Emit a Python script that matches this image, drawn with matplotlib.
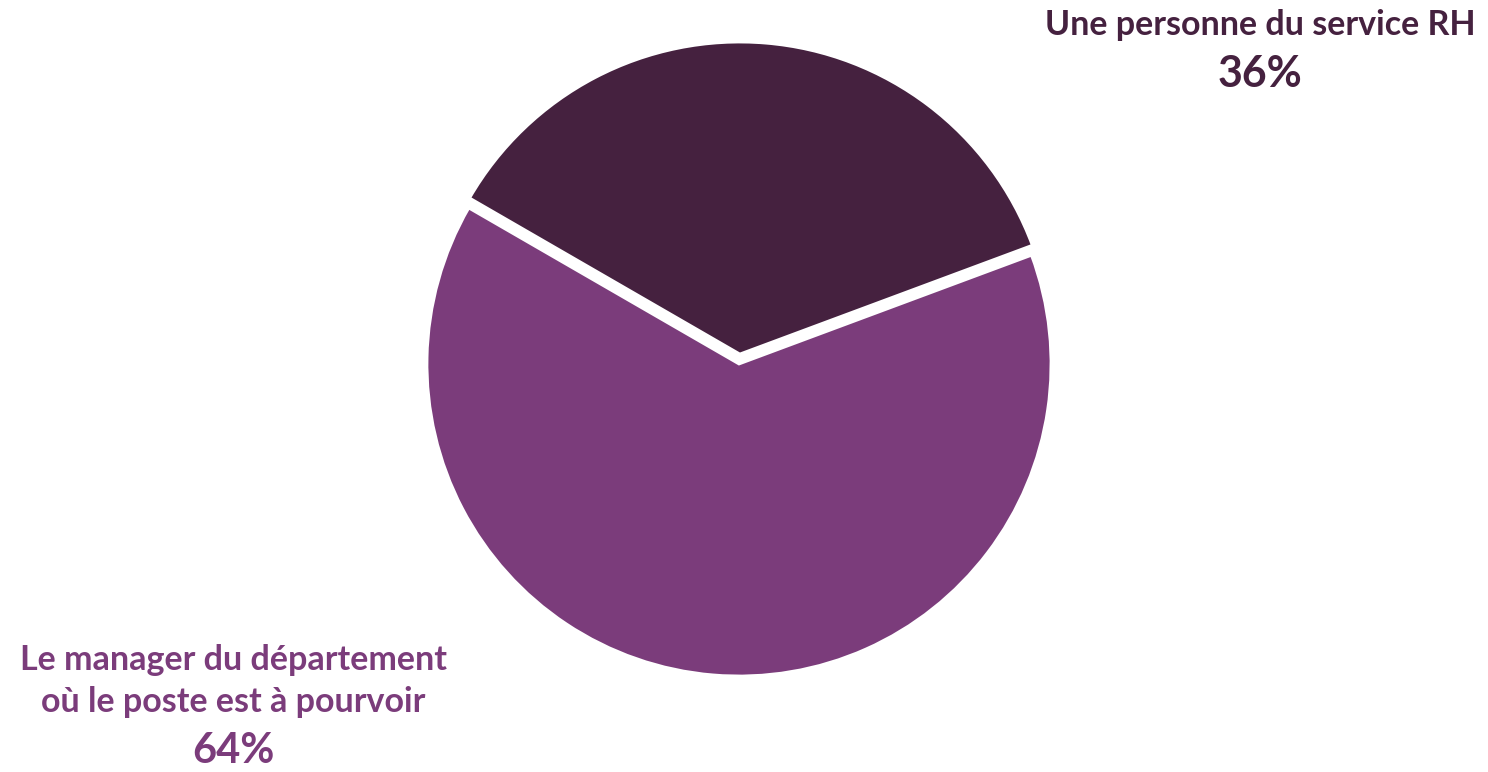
import matplotlib
matplotlib.use("Agg")
import matplotlib.pyplot as plt

labels = ["Une personne du service RH", "Le manager du département\noù le poste est à pourvoir"]
values = [36, 64]
pct_labels = ["36%", "64%"]
colors = ["#45213F", "#7B3C7B"]

W, H = 1488, 772
fig = plt.figure(figsize=(W / 100, H / 100), dpi=100)
ax = fig.add_axes([0, 0, 1, 1])

ax.pie(values, colors=colors, startangle=150, counterclock=False,
       center=(739, H - 364), radius=312, explode=[10, 0],
       wedgeprops=dict(edgecolor="white", linewidth=2), frame=True)
ax.set_xlim(0, W)
ax.set_ylim(0, H)
ax.set_aspect("equal")
ax.axis("off")

font = "Lato"
ax.text(1260, H - 25, labels[0], ha="center", va="center", fontsize=24.5,
        fontweight="bold", color=colors[0], family=font)
ax.text(1260, H - 74, pct_labels[0], ha="center", va="center", fontsize=31,
        fontweight="bold", color=colors[0], family=font)
ax.text(233, H - 681, labels[1], ha="center", va="center", fontsize=24.5,
        fontweight="bold", color=colors[1], family=font, linespacing=1.35)
ax.text(233, H - 751, pct_labels[1], ha="center", va="center", fontsize=30,
        fontweight="bold", color=colors[1], family=font)

fig.savefig("out.png", dpi=100)
